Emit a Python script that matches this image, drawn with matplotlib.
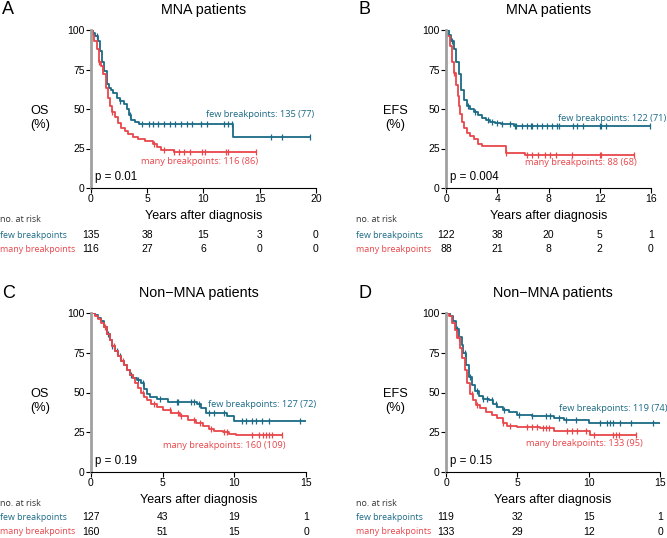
import numpy as np
import matplotlib
matplotlib.use('Agg')
import matplotlib.pyplot as plt
from matplotlib.transforms import blended_transform_factory

teal = '#1b6a86'
red = '#e8464b'

# ---- panel A : MNA patients, OS ----
a_few_t = [0, 0.2, 0.4, 0.6, 0.8, 1.0, 1.2, 1.4, 1.6, 1.8, 2.0, 2.3, 2.6, 2.9, 3.2, 3.4, 3.6, 3.9, 4.3, 12.6]
a_few_s = [100, 98, 96, 93, 87, 80, 74, 66, 63, 62, 60, 57, 55, 53, 50, 46, 43, 42, 40.5, 32.5]
a_few_end = 19.5
a_few_cens = [0.5, 2.6, 3.5, 4.5, 5.2, 5.5, 6.0, 6.5, 7.0, 7.5, 8.0, 8.5, 9.0, 9.8, 10.3, 11.8, 12.2, 12.5, 16.0, 17.0, 19.5]
a_many_t = [0, 0.15, 0.3, 0.5, 0.7, 0.9, 1.1, 1.3, 1.5, 1.7, 1.9, 2.1, 2.4, 2.7, 3.0, 3.3, 3.7, 4.2, 4.8, 5.5, 5.9, 6.2, 7.4]
a_many_s = [100, 97, 93, 88, 80, 77, 72, 63, 57, 52, 48, 45, 41, 38, 36, 34, 32, 31, 30, 28, 26, 24, 23]
a_many_end = 14.7
a_many_cens = [0.7, 1.9, 5.6, 6.5, 7.4, 7.8, 8.3, 8.8, 9.9, 10.1, 12.0, 12.2, 14.7]

# ---- panel B : MNA patients, EFS ----
b_few_t = [0, 0.2, 0.4, 0.6, 0.8, 1.0, 1.2, 1.4, 1.6, 1.9, 2.2, 2.5, 2.8, 3.1, 3.4, 3.8, 4.3, 5.3]
b_few_s = [100, 97, 93, 88, 80, 72, 62, 56, 52, 50, 48, 46, 44, 43, 42, 41, 40.5, 39.5]
b_few_end = 17.0
b_few_cens = [0.5, 1.7, 2.3, 3.3, 3.6, 4.0, 4.4, 5.0, 5.4, 5.5, 5.9, 6.3, 6.6, 6.7, 7.1, 7.5, 7.9, 8.3,
              8.7, 8.8, 9.9, 10.2, 10.7, 12.0, 12.1, 12.5, 15.9, 16.9]
b_many_t = [0, 0.1, 0.3, 0.5, 0.6, 0.8, 0.9, 1.0, 1.1, 1.25, 1.4, 1.6, 1.9, 2.2, 2.5, 2.8, 4.7, 6.2]
b_many_s = [100, 96, 90, 80, 73, 65, 58, 52, 47, 42, 38, 35, 33, 31, 28, 26.5, 22, 21]
b_many_end = 14.7
b_many_cens = [0.6, 4.7, 6.3, 6.7, 7.2, 7.7, 8.1, 8.6, 9.8, 12.0, 12.1, 14.7]

# ---- panel C : Non-MNA patients, OS ----
c_few_t = [0, 0.3, 0.5, 0.7, 0.9, 1.1, 1.3, 1.5, 1.7, 1.9, 2.1, 2.3, 2.5, 2.7, 2.9, 3.2, 3.5, 3.7,
           3.9, 4.1, 4.6, 5.4, 7.4, 7.7, 8.0, 9.5, 10.0]
c_few_s = [100, 99, 97, 95, 91, 87, 83, 79, 76, 73, 70, 67, 64, 61, 59, 58, 56, 52, 49, 47, 46, 44,
           43, 40, 37, 35, 32]
c_few_end = 15.2
c_few_cens = [1.2, 1.5, 1.8, 2.0, 2.8, 3.3, 3.6, 4.8, 6.0, 6.1, 7.0, 7.2, 7.5, 8.2, 8.6, 9.3, 10.5,
              10.8, 11.2, 11.5, 11.9, 12.4, 14.6, 15.2]
c_many_t = [0, 0.3, 0.5, 0.7, 0.9, 1.1, 1.3, 1.5, 1.7, 1.9, 2.1, 2.3, 2.5, 2.7, 2.9, 3.1, 3.3, 3.5,
            3.7, 3.9, 4.2, 4.6, 5.0, 5.6, 6.2, 6.8, 7.3, 7.8, 8.2, 8.6, 9.2, 9.6, 10.1]
c_many_s = [100, 98, 96, 94, 91, 87, 83, 79, 76, 73, 70, 67, 64, 61, 59, 56, 53, 50, 47, 45, 43, 41,
            39, 37, 35, 33, 31, 29, 27, 26, 25, 24, 23]
c_many_end = 13.3
c_many_cens = [1.0, 1.6, 2.2, 3.6, 4.4, 5.5, 6.1, 6.3, 7.2, 7.6, 8.4, 9.3, 9.5, 11.2, 11.7, 12.0,
               12.2, 12.4, 12.6, 13.3]

# ---- panel D : Non-MNA patients, EFS ----
d_few_t = [0, 0.3, 0.5, 0.7, 0.9, 1.1, 1.2, 1.4, 1.6, 1.8, 2.0, 2.3, 2.6, 3.0, 3.3, 3.6, 4.0, 4.4,
           5.0, 6.0, 7.6, 8.3, 10.0]
d_few_s = [100, 98, 95, 90, 85, 80, 75, 67, 60, 55, 51, 48, 46, 45, 43, 41, 39, 38, 36, 35, 34, 33, 31]
d_few_end = 15.3
d_few_cens = [0.8, 1.3, 1.7, 2.2, 2.6, 2.9, 3.2, 3.5, 4.1, 5.1, 6.0, 7.0, 7.3, 7.9, 8.4, 9.1, 10.8,
              11.3, 11.5, 11.7, 12.2, 13.0, 14.5, 15.3]
d_many_t = [0, 0.2, 0.4, 0.6, 0.8, 1.0, 1.1, 1.3, 1.5, 1.7, 1.9, 2.1, 2.4, 2.8, 3.2, 3.6, 4.0, 4.3,
            5.0, 6.6, 7.6, 10.1]
d_many_s = [100, 98, 94, 89, 84, 78, 72, 64, 56, 49, 45, 42, 40, 38, 36, 34, 31, 29, 28, 27.5, 25.5, 23]
d_many_end = 13.3
d_many_cens = [0.9, 1.8, 2.2, 4.0, 4.5, 5.7, 6.0, 6.4, 6.8, 7.0, 7.2, 8.5, 8.8, 9.2, 9.8, 10.4,
               11.7, 11.9, 12.1, 13.3]

# risk tables
a_risk_x = [0, 5, 10, 15, 20]
a_risk_few = [135, 38, 15, 3, 0]
a_risk_many = [116, 27, 6, 0, 0]
b_risk_x = [0, 4, 8, 12, 16]
b_risk_few = [122, 38, 20, 5, 1]
b_risk_many = [88, 21, 8, 2, 0]
c_risk_x = [0, 5, 10, 15]
c_risk_few = [127, 43, 19, 1]
c_risk_many = [160, 51, 15, 0]
d_risk_x = [0, 5, 10, 15]
d_risk_few = [119, 32, 15, 1]
d_risk_many = [133, 29, 12, 0]

num_font = 'Liberation Sans'
lab_font = 'Open Sans'

fig = plt.figure(figsize=(6.67, 5.38), dpi=100)
W, H = 667.0, 538.0


def km(ax, t, s, end, cens, col):
    t = list(t) + [end]
    s = list(s) + [s[-1]]
    ax.step(t, s, where='post', color=col, lw=1.3, clip_on=True)
    idx = np.searchsorted(t, cens, side='right') - 1
    ax.plot(cens, np.array(s)[idx], ls='none', marker='|', ms=5, mew=0.9, color=col)


def panel(px0, px1, py_top, py_bot, xmax, xticks, letter, title, ylab, few, many,
          few_lab, many_lab, few_pos, many_pos, pval, risk_x, r_few, r_many, lab_x, num_y):
    ax = fig.add_axes([px0 / W, 1 - py_bot / H, (px1 - px0) / W, (py_bot - py_top) / H])
    km(ax, *few, teal)
    km(ax, *many, red)
    ax.set_xlim(0, xmax)
    ax.set_ylim(0, 100)
    ax.set_xticks(xticks)
    ax.set_yticks([0, 25, 50, 75, 100])
    for sp in ['top', 'right']:
        ax.spines[sp].set_visible(False)
    ax.spines['left'].set_color('#a0a0a0')
    ax.spines['left'].set_linewidth(2)
    ax.spines['bottom'].set_linewidth(0.8)
    ax.tick_params(axis='both', labelsize=7.5, length=3.5, width=0.8, pad=1)
    for lb in ax.get_xticklabels() + ax.get_yticklabels():
        lb.set_family(num_font)
    ax.set_xlabel('Years after diagnosis', fontsize=9, family=num_font, labelpad=4)
    ax.text(few_pos[0], few_pos[1], few_lab, color=teal, fontsize=6.7, family=lab_font,
            ha='right', va='center', clip_on=False)
    ax.text(many_pos[0], many_pos[1], many_lab, color=red, fontsize=6.7, family=lab_font,
            ha='right', va='center', clip_on=False)
    ax.text(0.02, 0.05, pval, transform=ax.transAxes, fontsize=8.3, family=num_font)
    fig.text((px0 + px1) / 2 / W, 1 - (py_top - 20) / H, title, ha='center', va='center',
             fontsize=10.3, family=num_font)
    fig.text((lab_x + 2) / W, 1 - (py_top - 20) / H, letter, ha='left', va='center',
             fontsize=13, family=num_font)
    fig.text((px0 - 51) / W, 1 - (py_top + 88) / H, ylab + '\n(%)', ha='center', va='center',
             fontsize=9.2, family=num_font, linespacing=1.2)
    tr = blended_transform_factory(ax.transData, fig.transFigure)
    fig.text(lab_x / W, 1 - num_y[0] / H, 'no. at risk', fontsize=6.4, family=lab_font,
             color='#333333', va='center')
    fig.text(lab_x / W, 1 - num_y[1] / H, 'few breakpoints', fontsize=6.4, family=lab_font,
             color=teal, va='center')
    fig.text(lab_x / W, 1 - num_y[2] / H, 'many breakpoints', fontsize=6.4, family=lab_font,
             color=red, va='center')
    for x, a, b in zip(risk_x, r_few, r_many):
        ax.text(x, 1 - num_y[1] / H, str(a), transform=tr, ha='center', va='center',
                fontsize=7.5, family=num_font, clip_on=False)
        ax.text(x, 1 - num_y[2] / H, str(b), transform=tr, ha='center', va='center',
                fontsize=7.5, family=num_font, clip_on=False)
    return ax


panel(91, 316, 30, 188, 20, [0, 5, 10, 15, 20], 'A', 'MNA patients', 'OS',
      (a_few_t, a_few_s, a_few_end, a_few_cens), (a_many_t, a_many_s, a_many_end, a_many_cens),
      'few breakpoints: 135 (77)', 'many breakpoints: 116 (86)', (19.8, 46.5), (14.9, 17),
      'p = 0.01', a_risk_x, a_risk_few, a_risk_many, 0, (220, 235, 249))

panel(446, 651, 30, 188, 16, [0, 4, 8, 12, 16], 'B', 'MNA patients', 'EFS',
      (b_few_t, b_few_s, b_few_end, b_few_cens), (b_many_t, b_many_s, b_many_end, b_many_cens),
      'few breakpoints: 122 (71)', 'many breakpoints: 88 (68)', (17.2, 44), (14.9, 16),
      'p = 0.004', b_risk_x, b_risk_few, b_risk_many, 356, (220, 235, 249))

panel(91, 306, 313, 472, 15, [0, 5, 10, 15], 'C', 'Non\u2212MNA patients', 'OS',
      (c_few_t, c_few_s, c_few_end, c_few_cens), (c_many_t, c_many_s, c_many_end, c_many_cens),
      'few breakpoints: 127 (72)', 'many breakpoints: 160 (109)', (15.7, 42.5), (13.6, 16.5),
      'p = 0.19', c_risk_x, c_risk_few, c_risk_many, 0, (503, 517, 532))

panel(446, 660, 313, 472, 15, [0, 5, 10, 15], 'D', 'Non\u2212MNA patients', 'EFS',
      (d_few_t, d_few_s, d_few_end, d_few_cens), (d_many_t, d_many_s, d_many_end, d_many_cens),
      'few breakpoints: 119 (74)', 'many breakpoints: 133 (95)', (15.5, 40), (13.8, 18),
      'p = 0.15', d_risk_x, d_risk_few, d_risk_many, 356, (503, 517, 532))

fig.savefig('out.png', dpi=100)
